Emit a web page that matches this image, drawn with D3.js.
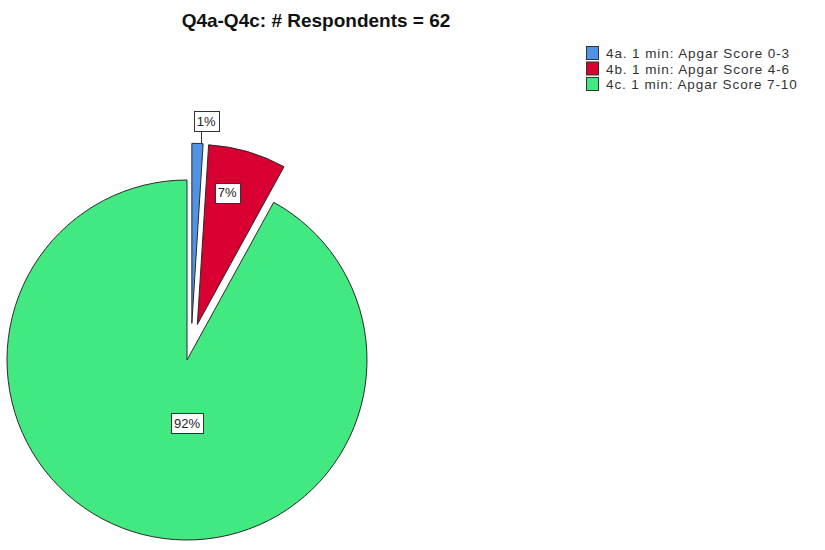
<!DOCTYPE html>
<html lang="en">
<head>
<meta charset="utf-8">
<title>Q4a-Q4c pie</title>
<style>
  body { margin: 0; background: #fff; }
  text { font-family: Arial, "Liberation Sans", sans-serif; }
  .title { font-size: 19px; font-weight: bold; fill: #111; }
  .legend text { font-size: 13.5px; letter-spacing: 0.9px; fill: #333; }
  .lbl text { font-size: 13px; fill: #222; }
</style>
<script src="https://d3js.org/d3.v7.min.js"></script>
</head>
<body>
<script>
var categories = ["4a. 1 min: Apgar Score 0-3", "4b. 1 min: Apgar Score 4-6", "4c. 1 min: Apgar Score 7-10"];
var percents = [1, 7, 92];
var colors = ["#5092e4", "#d70030", "#41e980"];
var exploded = [true, true, false];

var w = 825, h = 550;
var cx = 187, cy = 360, R = 180, explode = 37;

var svg = d3.select("body").append("svg")
  .attr("width", w).attr("height", h);

svg.append("text").attr("class", "title")
  .attr("x", 316).attr("y", 27)
  .attr("text-anchor", "middle")
  .text("Q4a-Q4c: # Respondents = 62");

var pie = d3.pie().sort(null).value(function(d) { return d; });
var arcs = pie(percents);
var arc = d3.arc().innerRadius(0).outerRadius(R);

var g = svg.append("g").attr("transform", "translate(" + cx + "," + cy + ")");

// small slices get pushed out a bit further round so they don't touch
function offset(d, i) {
  var a = (d.startAngle + d.endAngle) / 2;
  if (i === 0) a += 0.1;
  var k = exploded[i] ? explode : 0;
  return [Math.sin(a) * k, -Math.cos(a) * k];
}

g.selectAll("path.slice")
  .data(arcs)
  .enter().append("path")
  .attr("class", "slice")
  .attr("d", arc)
  .attr("transform", function(d, i) { var o = offset(d, i); return "translate(" + o[0] + "," + o[1] + ")"; })
  .attr("fill", function(d, i) { return colors[i]; })
  .attr("stroke", "#2a2a2a")
  .attr("stroke-width", 1);

// labels
function labelPos(d, i) {
  var o = offset(d, i);
  var a = (d.startAngle + d.endAngle) / 2;
  if (i === 0) {
    return { x: o[0] + Math.sin(a) * (R + 20) + 8, y: o[1] - Math.cos(a) * (R + 20) - 2, leader: [o[0] + Math.sin(a) * R, o[1] - Math.cos(a) * R] };
  }
  if (i === 1) {
    a = a - 0.06;
    return { x: o[0] + Math.sin(a) * R * 0.75, y: o[1] - Math.cos(a) * R * 0.75 };
  }
  return { x: 0, y: R * 0.35 };
}

arcs.forEach(function(d, i) {
  var p = labelPos(d, i);
  var lg = g.append("g").attr("class", "lbl");
  var t = lg.append("text")
    .attr("x", p.x).attr("y", p.y + 4.5)
    .attr("text-anchor", "middle")
    .text(percents[i] + "%");
  var bb = t.node().getBBox();
  lg.insert("rect", "text")
    .attr("x", Math.round(bb.x - 3) + 0.5).attr("y", Math.round(p.y - 10) + 0.5)
    .attr("width", Math.round(bb.width + 6)).attr("height", 20)
    .attr("fill", "#fff").attr("stroke", "#333").attr("stroke-width", 1);
  if (p.leader) {
    lg.insert("line", "rect")
      .attr("x1", p.leader[0] + 4).attr("y1", p.leader[1])
      .attr("x2", p.leader[0] + 4).attr("y2", p.y + 10)
      .attr("stroke", "#333");
  }
});

// legend
var legend = svg.append("g").attr("class", "legend")
  .attr("transform", "translate(586,46)");
var row = legend.selectAll("g")
  .data(categories)
  .enter().append("g")
  .attr("transform", function(d, i) { return "translate(0," + (i * 15.5) + ")"; });
row.append("rect")
  .attr("x", 0.5).attr("y", 0.5)
  .attr("width", 12).attr("height", 13)
  .attr("fill", function(d, i) { return colors[i]; })
  .attr("stroke", "#333");
row.append("text")
  .attr("x", 20).attr("y", 12)
  .text(function(d) { return d; });
</script>
</body>
</html>
